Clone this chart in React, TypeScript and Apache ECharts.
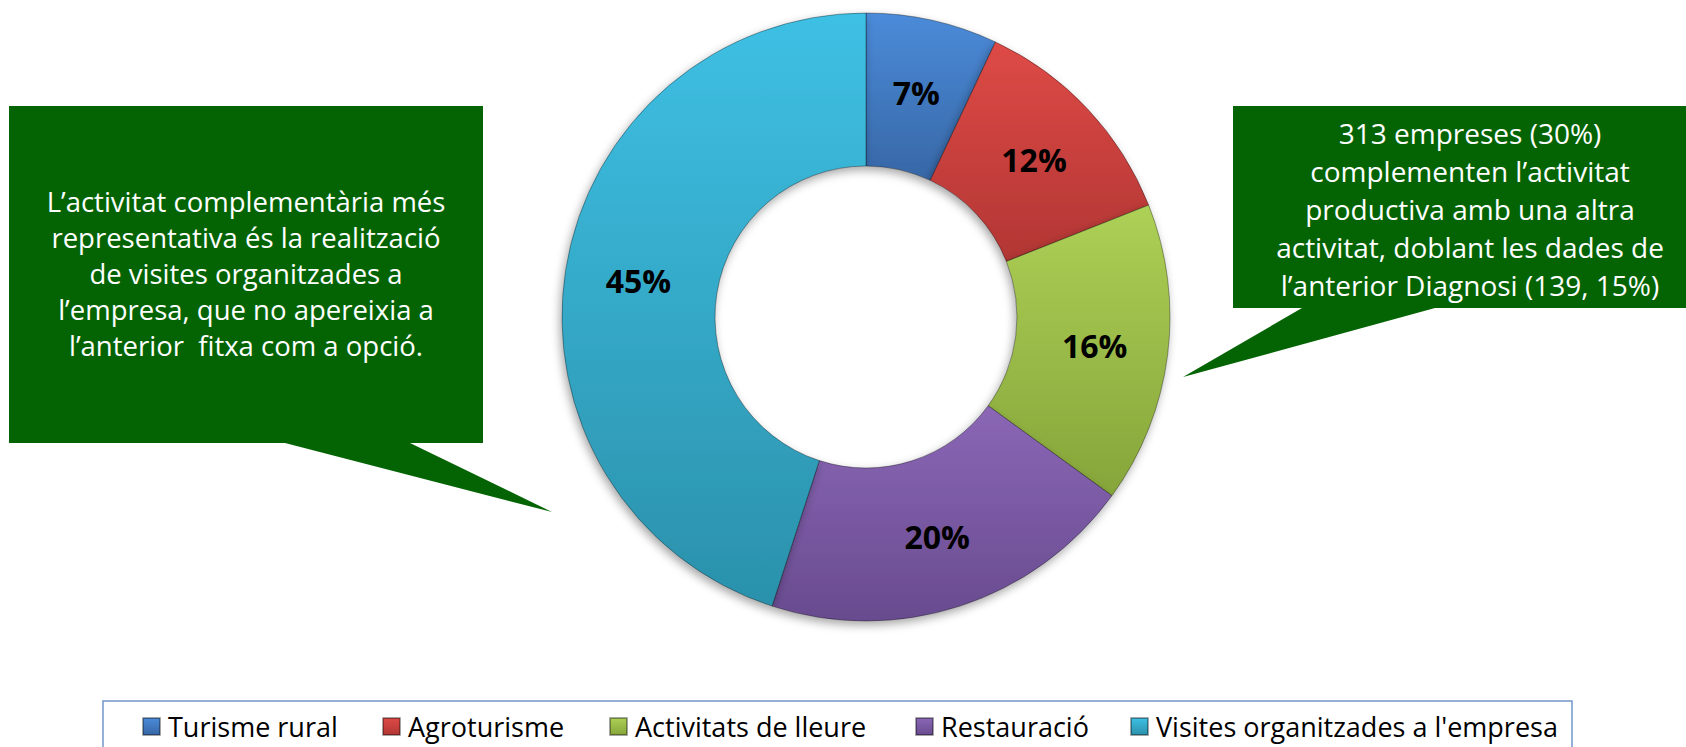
import React, { useEffect, useRef } from "react";
import * as echarts from "echarts";

const categories = [
  "Turisme rural",
  "Agroturisme",
  "Activitats de lleure",
  "Restauració",
  "Visites organitzades a l'empresa",
];
const shares = [7, 12, 16, 20, 45];
const sliceTop = ["#4B8BD9", "#DE4A46", "#ADD056", "#8B67B6", "#3EC0E4"];
const sliceBottom = ["#3767A6", "#B23634", "#86A53A", "#684B8F", "#2B91AB"];
const legendLefts = [142, 382, 609, 915, 1130];

const leftNote = [
  "L’activitat complementària més",
  "representativa és la realització",
  "de visites organitzades a",
  "l’empresa, que no apereixia a",
  "l’anterior  fitxa com a opció.",
];
const rightNote = [
  "313 empreses (30%)",
  "complementen l’activitat",
  "productiva amb una altra",
  "activitat, doblant les dades de",
  "l’anterior Diagnosi (139, 15%)",
];

const FONT = "'Open Sans', 'Noto Sans', sans-serif";
const GREEN = "#046404";

export default function App() {
  const ref = useRef<HTMLDivElement>(null);

  useEffect(() => {
    if (!ref.current) return;
    const chart = echarts.init(ref.current, null, { renderer: "svg" });

    const data = categories.map((name, i) => ({
      name,
      value: shares[i],
      itemStyle: {
        color: new echarts.graphic.LinearGradient(0, 0, 0, 1, [
          { offset: 0, color: sliceTop[i] },
          { offset: 1, color: sliceBottom[i] },
        ]),
      },
    }));

    const legends = categories.map((name, i) => ({
      data: [name],
      left: legendLefts[i],
      top: 713,
      padding: 0,
      itemGap: 0,
      icon: "rect",
      itemWidth: 17,
      itemHeight: 17,
      selectedMode: false,
      textStyle: {
        fontFamily: FONT,
        fontSize: 27,
        color: "#000",
        padding: [0, 0, 0, 3],
      },
    }));

    chart.setOption({
      animation: false,
      backgroundColor: "#ffffff",
      legend: legends,
      graphic: [
        {
          type: "rect",
          shape: { x: 103, y: 701, width: 1469, height: 60 },
          style: { fill: "#ffffff", stroke: "#7396C9", lineWidth: 1.5 },
          z: -10,
        },
        {
          type: "polygon",
          shape: {
            points: [
              [9, 106],
              [483, 106],
              [483, 443],
              [410, 443],
              [552, 512],
              [285, 443],
              [9, 443],
            ],
          },
          style: { fill: GREEN },
          z: 1,
        },
        {
          type: "text",
          x: 246,
          y: 273,
          z: 2,
          style: {
            text: leftNote.join("\n"),
            fill: "#ffffff",
            fontFamily: FONT,
            fontSize: 27.5,
            lineHeight: 36,
            align: "center",
            verticalAlign: "middle",
          },
        },
        {
          type: "polygon",
          shape: {
            points: [
              [1233, 106],
              [1686, 106],
              [1686, 308],
              [1435, 308],
              [1183, 377],
              [1302, 308],
              [1233, 308],
            ],
          },
          style: { fill: GREEN },
          z: 1,
        },
        {
          type: "text",
          x: 1470,
          y: 209,
          z: 2,
          style: {
            text: rightNote.join("\n"),
            fill: "#ffffff",
            fontFamily: FONT,
            fontSize: 28,
            lineHeight: 38,
            align: "center",
            verticalAlign: "middle",
          },
        },
      ],
      series: [
        {
          type: "pie",
          center: [866, 317],
          radius: [151, 304],
          startAngle: 90,
          clockwise: true,
          avoidLabelOverlap: false,
          itemStyle: {
            borderColor: "rgba(0,0,0,0.35)",
            borderWidth: 1,
            shadowBlur: 10,
            shadowColor: "rgba(0,0,0,0.35)",
            shadowOffsetX: -2,
            shadowOffsetY: 4,
          },
          label: {
            show: true,
            position: "inside",
            formatter: "{c}%",
            fontFamily: FONT,
            fontWeight: "bold",
            fontSize: 32,
            color: "#000",
          },
          labelLine: { show: false },
          emphasis: { disabled: true },
          data,
        },
      ],
    });

    return () => chart.dispose();
  }, []);

  return (
    <div
      ref={ref}
      style={{ position: "fixed", left: 0, top: 0, width: 1686, height: 747 }}
    />
  );
}
